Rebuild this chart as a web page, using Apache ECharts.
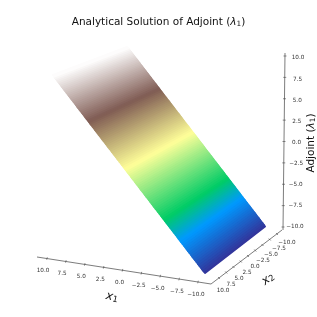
<!DOCTYPE html>
<html>
<head>
<meta charset="utf-8">
<style>html,body{margin:0;padding:0;background:#fff}#c{width:317px;height:317px}</style>
<script src="https://cdn.jsdelivr.net/npm/echarts@6/dist/echarts.min.js"></script>
</head>
<body>
<div id="c"></div>
<script>
// ---- values ----
const x1Samples = [-10,-9,-8,-7,-6,-5,-4,-3,-2,-1,0,1,2,3,4,5,6,7,8,9,10];
const adjointValues = [-10,-9,-8,-7,-6,-5,-4,-3,-2,-1,0,1,2,3,4,5,6,7,8,9,10];
const x1Ticks = [10,7.5,5,2.5,0,-2.5,-5,-7.5,-10];
const x2Ticks = [10,7.5,5,2.5,0,-2.5,-5,-7.5,-10];
const zTicks = [10,7.5,5,2.5,0,-2.5,-5,-7.5,-10];
const titleParts = ['Analytical Solution of Adjoint (', 'λ', '1', ')'];

// ---- colour map (terrain) ----
const cmapStops = [0,0.15,0.25,0.5,0.75,1];
const cmapColors = [[51,51,153],[0,153,255],[0,204,102],[255,255,153],[128,92,84],[255,255,255]];

// ---- view: where the plot box lands on the 317x317 page ----
const surfaceCorners = {
  lowFar:[265,226.5], lowNear:[205,273], highFar:[127,47], highNear:[53,75]
};
const perspective = 0.12;
const lineColor = '#444', textColor = '#333', labelColor = '#111';
const family = '"DejaVu Sans"';
const x1Axis = {line:[[37,257],[211,284]], tick:[[47,258.5],[198,282]], label:[[43,270.5],[196,294.5]]};
const x2Axis = {line:[[211,284],[282,230]], tick:[[219,278],[277,234]], label:[[223,291],[287,243]]};
const zAxis  = {line:[[283,230],[285,53]], tick:[[283,227],[285,56]], label:[[295,227],[298,58]]};

function mix(a,b,t){return [a[0]+(b[0]-a[0])*t,a[1]+(b[1]-a[1])*t];}
function colourOf(l){
  const t=(l+10)/20; let i=0;
  while(i<cmapStops.length-2 && t>cmapStops[i+1]) i++;
  const f=(t-cmapStops[i])/(cmapStops[i+1]-cmapStops[i]);
  const a=cmapColors[i],b=cmapColors[i+1];
  return 'rgb('+[0,1,2].map(k=>Math.round(a[k]+(b[k]-a[k])*f)).join(',')+')';
}
function surfacePoint(x1,x2){
  const w=(x1+10)/20, u=w*(1+perspective)/(1+perspective*w), v=(x2+10)/20;
  return mix(mix(surfaceCorners.lowFar,surfaceCorners.highFar,u),mix(surfaceCorners.lowNear,surfaceCorners.highNear,u),v);
}
function fmt(v){return (v<0?'\u2212':'')+Math.abs(v).toFixed(1);}

const surfaceData = x1Samples.slice(0,-1).map((x,i)=>[x,x1Samples[i+1],adjointValues[i],adjointValues[i+1]]);
const SUB=6;

function renderStrip(params,api){
  const x0=api.value(0),x1=api.value(1),l0=api.value(2),l1=api.value(3);
  const children=[];
  for(let s=0;s<SUB;s++){
    const a=x0+(x1-x0)*s/SUB,b=x0+(x1-x0)*(s+1)/SUB,c=colourOf(l0+(l1-l0)*(s+.5)/SUB);
    const pts=[surfacePoint(a,-10),surfacePoint(b,-10),surfacePoint(b,10),surfacePoint(a,10)].map(p=>api.coord(p));
    children.push({type:'polygon',shape:{points:pts},style:{fill:c,stroke:c,lineWidth:2,lineJoin:'round'}});
  }
  return {type:'group',children};
}

function axisSeries(ax,ticks,range,tickVec){
  const data=ticks.map(v=>[v]);
  return {
    type:'custom',coordinateSystem:'cartesian2d',silent:true,clip:false,data,encode:{x:0,y:0},
    renderItem(params,api){
      const v=api.value(0),t=(range[0]-v)/(range[0]-range[1]);
      const p=api.coord(mix(ax.tick[0],ax.tick[1],t));
      const q=api.coord(mix(ax.label[0],ax.label[1],t));
      const ch=[
        {type:'line',shape:{x1:p[0]-tickVec[0],y1:p[1]-tickVec[1],x2:p[0]+tickVec[0],y2:p[1]+tickVec[1]},style:{stroke:lineColor,lineWidth:.6}},
        {type:'text',x:q[0],y:q[1],style:{text:fmt(v),fill:textColor,fontSize:5.7,fontFamily:family,align:'center',verticalAlign:'middle'}}
      ];
      if(params.dataIndex===0){
        const a=api.coord(ax.line[0]),b=api.coord(ax.line[1]);
        ch.unshift({type:'line',shape:{x1:a[0],y1:a[1],x2:b[0],y2:b[1]},style:{stroke:lineColor,lineWidth:.7}});
      }
      return {type:'group',children:ch};
    }
  };
}

function richStyles(size){
  return {
    n:{fontSize:size,fontFamily:family,color:labelColor,fill:labelColor},
    i:{fontSize:size,fontFamily:family,fontStyle:'italic',color:labelColor,fill:labelColor},
    s:{fontSize:size*0.7,fontFamily:family,color:labelColor,fill:labelColor,verticalAlign:'bottom'}
  };
}

function labelSeries(parts,pos,rot,size){
  return {
    type:'custom',coordinateSystem:'cartesian2d',silent:true,clip:false,data:[pos],encode:{x:0,y:1},
    renderItem(params,api){
      const p=api.coord([api.value(0),api.value(1)]);
      return {type:'text',x:p[0],y:p[1],rotation:rot,style:{
        text:parts,align:'center',verticalAlign:'middle',fill:labelColor,rich:richStyles(size)}};
    }
  };
}

const chart=echarts.init(document.getElementById('c'),null,{renderer:'canvas'});
chart.setOption({
  animation:false,
  backgroundColor:'#fff',
  title:{
    text:'{n|'+titleParts[0]+'}{i|'+titleParts[1]+'}{s|'+titleParts[2]+'}{n|'+titleParts[3]+'}',
    left:'center',top:12,
    textStyle:{fontWeight:'normal',rich:richStyles(10.5)}
  },
  grid:{left:0,right:0,top:0,bottom:0},
  xAxis:{type:'value',min:0,max:317,show:false},
  yAxis:{type:'value',min:0,max:317,inverse:true,show:false},
  series:[
    {type:'custom',coordinateSystem:'cartesian2d',silent:true,data:surfaceData,encode:{x:0,y:2},renderItem:renderStrip},
    axisSeries(x1Axis,x1Ticks,[10,-10],[0.3,-1.3]),
    axisSeries(x2Axis,x2Ticks,[10,-10],[1,1]),
    axisSeries(zAxis,zTicks,[-10,10],[1.5,0]),
    labelSeries('{i|x}{s|1}',[112,297],-0.22,12),
    labelSeries('{i|x}{s|2}',[268,279],0.65,12),
    labelSeries('{n|Adjoint (}{i|λ}{s|1}{n|)}',[311,143],Math.PI/2,10.5)
  ]
});
</script>
</body>
</html>
